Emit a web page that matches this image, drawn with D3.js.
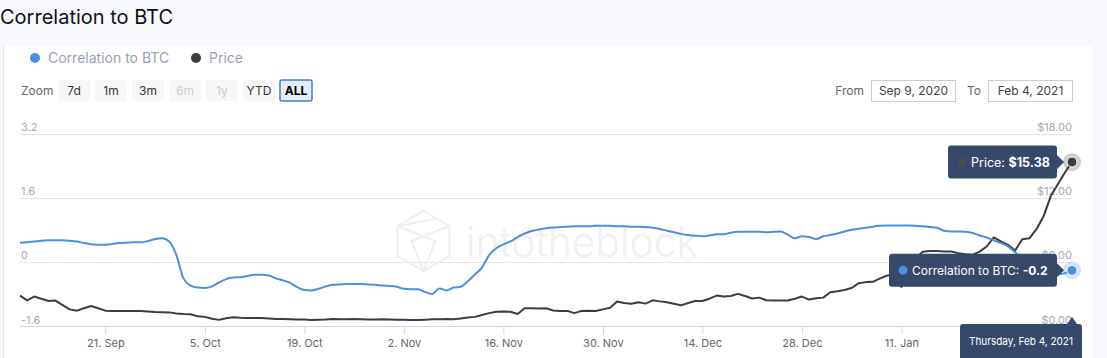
<!DOCTYPE html>
<html><head><meta charset="utf-8">
<script src="https://cdn.jsdelivr.net/npm/d3@7"></script>
<style>
html,body{margin:0;padding:0;background:#f8f9fc;overflow:hidden;}
svg{display:block;font-family:Inter,"Noto Sans",sans-serif;}
</style></head><body>
<svg id="c" width="1107" height="358"></svg>
<script>
// ---- data ----
const startDate = new Date(2020, 8, 9);
const endDate = new Date(2021, 1, 4);
const correlation = [
0.49,0.50,0.52,0.54,0.55,0.55,0.55,0.54,0.52,0.48,
0.45,0.44,0.44,0.46,0.48,0.49,0.50,0.50,0.53,0.58,
0.60,0.52,0.18,-0.40,-0.58,-0.63,-0.64,-0.60,-0.50,-0.42,
-0.38,-0.37,-0.34,-0.31,-0.31,-0.33,-0.40,-0.45,-0.51,-0.62,
-0.69,-0.70,-0.66,-0.60,-0.56,-0.55,-0.54,-0.54,-0.54,-0.55,
-0.56,-0.58,-0.59,-0.61,-0.66,-0.67,-0.67,-0.74,-0.79,-0.65,
-0.70,-0.63,-0.61,-0.47,-0.30,-0.13,0.18,0.35,0.45,0.52,
0.63,0.72,0.78,0.82,0.85,0.87,0.88,0.89,0.90,0.90,
0.90,0.91,0.91,0.91,0.90,0.90,0.89,0.89,0.88,0.86,
0.83,0.79,0.75,0.71,0.68,0.66,0.65,0.67,0.70,0.70,
0.74,0.76,0.76,0.76,0.76,0.75,0.76,0.77,0.69,0.60,
0.65,0.63,0.58,0.65,0.68,0.72,0.77,0.81,0.84,0.86,
0.89,0.91,0.92,0.92,0.92,0.92,0.91,0.90,0.88,0.86,
0.79,0.77,0.77,0.76,0.73,0.67,0.62,0.55,0.48,0.40,
0.25,0.10,-0.02,-0.12,-0.20,-0.27,-0.30,-0.27,-0.20
];
const price = [
2.89,2.45,2.80,2.60,2.38,2.42,2.00,1.60,1.48,1.70,
1.92,1.70,1.48,1.45,1.45,1.45,1.45,1.44,1.40,1.35,
1.33,1.32,1.22,1.17,1.15,0.95,0.90,0.72,0.62,0.78,
0.86,0.82,0.80,0.80,0.80,0.75,0.70,0.70,0.68,0.66,
0.66,0.61,0.64,0.66,0.70,0.68,0.67,0.70,0.68,0.66,
0.66,0.67,0.65,0.63,0.62,0.61,0.61,0.64,0.67,0.68,
0.70,0.68,0.74,0.84,0.90,1.08,1.25,1.38,1.40,1.38,
1.17,1.70,1.70,1.68,1.70,1.50,1.45,1.46,1.25,1.46,
1.48,1.45,1.60,1.75,2.33,2.20,2.12,2.27,2.14,2.45,
2.35,2.27,2.12,1.98,2.20,2.39,2.39,2.60,2.89,2.80,
2.85,3.05,2.85,2.62,2.70,2.45,2.43,2.43,2.44,2.60,
2.80,2.52,2.65,2.70,3.20,3.30,3.42,3.60,4.05,4.15,
4.18,4.50,4.77,4.85,3.70,5.60,6.40,7.00,7.05,7.05,
7.02,7.01,6.86,6.75,6.70,7.00,7.48,8.33,7.95,7.64,
7.10,8.15,8.25,9.10,10.30,12.17,13.30,14.40,15.38
];
const leftTicks = [3.2, 1.6, 0, -1.6];
const rightTicks = [18, 12, 6, 0];
const xTickDates = [new Date(2020,8,21), new Date(2020,9,5), new Date(2020,9,19), new Date(2020,10,2),
  new Date(2020,10,16), new Date(2020,10,30), new Date(2020,11,14), new Date(2020,11,28), new Date(2021,0,11)];
const zoomButtons = ["7d","1m","3m","6m","1y","YTD","ALL"];
const disabledButtons = ["6m","1y"];
const activeButton = "ALL";
const seriesNames = ["Correlation to BTC", "Price"];

const dates = d3.timeDay.range(startDate, d3.timeDay.offset(endDate, 1));
const hy = s => s.replace("\u2212", "-");

// ---- layout ----
const svg = d3.select("#c");
const BLUE = "#4a90e2", DARK = "#3a3d42", TIP = "#37496a";

svg.append("rect").attr("x",0).attr("y",0).attr("width",1107).attr("height",358).attr("fill","#f8f9fc");
svg.append("rect").attr("x",3).attr("y",46).attr("width",1089).attr("height",320).attr("fill","#fff");
svg.append("line").attr("x1",3.5).attr("x2",3.5).attr("y1",46).attr("y2",358).attr("stroke","#e2e4e8");

svg.append("text").attr("x",0).attr("y",24).attr("font-size",20).attr("fill","#111").text("Correlation to BTC");

// legend
const legend = svg.append("g");
legend.append("circle").attr("cx",35).attr("cy",58).attr("r",5).attr("fill",BLUE);
legend.append("text").attr("x",48).attr("y",63).attr("font-size",14).attr("fill","#9aa2b1").text(seriesNames[0]);
legend.append("circle").attr("cx",196).attr("cy",58).attr("r",5).attr("fill",DARK);
legend.append("text").attr("x",209).attr("y",63).attr("font-size",14).attr("fill","#9aa2b1").text(seriesNames[1]);

// zoom buttons
svg.append("text").attr("x",21).attr("y",95).attr("font-size",12).attr("fill","#666").text("Zoom");
const bx = d3.scaleBand().domain(zoomButtons).range([58, 312]).paddingInner(0.135).paddingOuter(0);
const bg = svg.append("g").selectAll("g").data(zoomButtons).join("g")
  .attr("transform", d => `translate(${bx(d)},80)`);
bg.append("rect").attr("width", d => bx.bandwidth()).attr("height",21).attr("rx",2)
  .attr("fill", d => d===activeButton ? "#e6ebf5" : "#f7f7f7")
  .attr("stroke", d => d===activeButton ? "#3a7fe0" : "none").attr("stroke-width",1.5);
bg.append("text").attr("x", bx.bandwidth()/2).attr("y",15).attr("text-anchor","middle").attr("font-size",12)
  .attr("font-weight", d => d===activeButton ? "bold" : "normal")
  .attr("fill", d => disabledButtons.includes(d) ? "#cccccc" : (d===activeButton ? "#000" : "#333")).text(d => d);

// From / To
const fmtInput = d3.timeFormat("%b %-d, %Y");
svg.append("text").attr("x",864).attr("y",95).attr("text-anchor","end").attr("font-size",12).attr("fill","#666").text("From");
svg.append("rect").attr("x",871.5).attr("y",80.5).attr("width",84).attr("height",21).attr("fill","#fff").attr("stroke","#cccccc");
svg.append("text").attr("x",913.5).attr("y",95).attr("text-anchor","middle").attr("font-size",12).attr("fill","#444").text(fmtInput(startDate));
svg.append("text").attr("x",981).attr("y",95).attr("text-anchor","end").attr("font-size",12).attr("fill","#666").text("To");
svg.append("rect").attr("x",988.5).attr("y",80.5).attr("width",84).attr("height",21).attr("fill","#fff").attr("stroke","#cccccc");
svg.append("text").attr("x",1030.5).attr("y",95).attr("text-anchor","middle").attr("font-size",12).attr("fill","#444").text(fmtInput(endDate));

// scales
const x = d3.scaleTime().domain([startDate, endDate]).range([20, 1072]);
const yL = d3.scaleLinear().domain([-1.6, 3.2]).range([326.5, 134]);
const yR = d3.scaleLinear().domain([0, 18]).range([326.5, 134]);

// grid
svg.append("g").selectAll("line").data(leftTicks.slice(0,3)).join("line")
  .attr("x1",20).attr("x2",1072).attr("y1",d=>Math.round(yL(d))+0.5).attr("y2",d=>Math.round(yL(d))+0.5)
  .attr("stroke","#e6e6e6");

// watermark
const wm = svg.append("g").attr("fill","none").attr("stroke","#eceef3").attr("stroke-width",2);
const cx0 = 423.5, cy0 = 241, R = 30;
const hex = d3.range(6).map(i => [cx0 + R*Math.cos(Math.PI/180*(60*i-90)), cy0 + R*Math.sin(Math.PI/180*(60*i-90))]);
wm.append("path").attr("d", d3.line()(hex) + "Z");
wm.append("path").attr("d", d3.line()([hex[5],[cx0+12,cy0],hex[3]]));
wm.append("path").attr("d", d3.line()([hex[1],[cx0-12,cy0],hex[3]]));
wm.append("path").attr("d", d3.line()([hex[5],[cx0+12,cy0-22]]));
svg.append("text").attr("x",466).attr("y",257).attr("font-size",42).attr("font-weight",300)
  .attr("fill","#eef0f4").attr("textLength",232).attr("lengthAdjust","spacingAndGlyphs").text("intotheblock");

// left axis labels
svg.append("g").selectAll("text").data(leftTicks).join("text")
  .attr("x",21).attr("y",d=>yL(d)-3).attr("font-size",11).attr("fill","#a3a9b5")
  .text(d => hy(d3.format("")(d)));
// right axis labels
svg.append("g").selectAll("text").data(rightTicks).join("text")
  .attr("x",1072).attr("y",d=>yR(d)-3).attr("text-anchor","end").attr("font-size",11).attr("fill","#a3a9b5")
  .text(d => "$" + d3.format(".2f")(d));

// x axis
const xAxis = d3.axisBottom(x).tickValues(xTickDates).tickFormat(d3.timeFormat("%-d. %b")).tickSize(8).tickSizeOuter(0);
const gx = svg.append("g").attr("transform","translate(0,326.5)").call(xAxis);
gx.select(".domain").attr("stroke","#ccd6eb").attr("d","M20,0H1072");
gx.selectAll(".tick line").attr("stroke","#ccd6eb");
gx.selectAll(".tick text").attr("font-size",11).attr("fill","#666").attr("font-family","Inter,'Noto Sans',sans-serif").attr("dy","0.85em");

// lines
const corrLine = d3.line().x((d,i)=>x(dates[i])).y(d=>yL(d)).curve(d3.curveMonotoneX);
const priceLine = d3.line().x((d,i)=>x(dates[i])).y(d=>yR(d));
svg.append("path").datum(price).attr("d",priceLine).attr("fill","none").attr("stroke",DARK).attr("stroke-width",2).attr("stroke-linejoin","round");
svg.append("path").datum(correlation).attr("d",corrLine).attr("fill","none").attr("stroke",BLUE).attr("stroke-width",2).attr("stroke-linejoin","round");

// hover markers
const last = dates.length - 1;
const px = x(dates[last]);
const pyP = yR(price[last]), pyC = yL(correlation[last]);
svg.append("circle").attr("cx",px).attr("cy",pyP).attr("r",9).attr("fill","#3a3d42").attr("opacity",0.25);
svg.append("circle").attr("cx",px).attr("cy",pyP).attr("r",5).attr("fill",DARK).attr("stroke","#fff").attr("stroke-width",1);
svg.append("circle").attr("cx",px).attr("cy",pyC).attr("r",9).attr("fill",BLUE).attr("opacity",0.25);
svg.append("circle").attr("cx",px).attr("cy",pyC).attr("r",5).attr("fill",BLUE).attr("stroke","#fff").attr("stroke-width",1);

// tooltips
function rightTip(x1, x2, yc, h, tipX) {
  const y1 = yc - h/2, y2 = yc + h/2, r = 3;
  return `M${x1+r},${y1}H${x2-r}Q${x2},${y1} ${x2},${y1+r}V${yc-7}L${tipX},${yc}L${x2},${yc+7}V${y2-r}Q${x2},${y2} ${x2-r},${y2}H${x1+r}Q${x1},${y2} ${x1},${y2-r}V${y1+r}Q${x1},${y1} ${x1+r},${y1}Z`;
}
function addTip(x1, yc, dotColor, label, value, fs) {
  const g = svg.append("g");
  g.append("path").attr("d", rightTip(x1, px-15, yc, 33, px-8)).attr("fill",TIP);
  g.append("circle").attr("cx",x1+14).attr("cy",yc).attr("r",4.5).attr("fill",dotColor);
  const t = g.append("text").attr("x",x1+23).attr("y",yc+4.5).attr("font-size",fs).attr("fill","#fff");
  t.append("tspan").text(label);
  t.append("tspan").attr("font-weight","bold").text(value);
}
addTip(948, pyP, "#4a4d52", "Price: ", "$" + d3.format(".2f")(price[last]), 12.5);
addTip(889, pyC, BLUE, "Correlation to BTC: ", hy(d3.format(".1f")(correlation[last])), 12);

// date tooltip
const dg = svg.append("g");
dg.append("path").attr("d", `M963,324H${px-5}L${px},317L${px+5},324H1079Q1082,324 1082,327V362H960V327Q960,324 963,324Z`).attr("fill",TIP);
dg.append("text").attr("x",1021).attr("y",345).attr("text-anchor","middle").attr("font-size",11)
  .attr("textLength",104).attr("lengthAdjust","spacingAndGlyphs").attr("fill","#fff")
  .text(d3.timeFormat("%A, %b %-d, %Y")(endDate));
</script>
</body></html>
